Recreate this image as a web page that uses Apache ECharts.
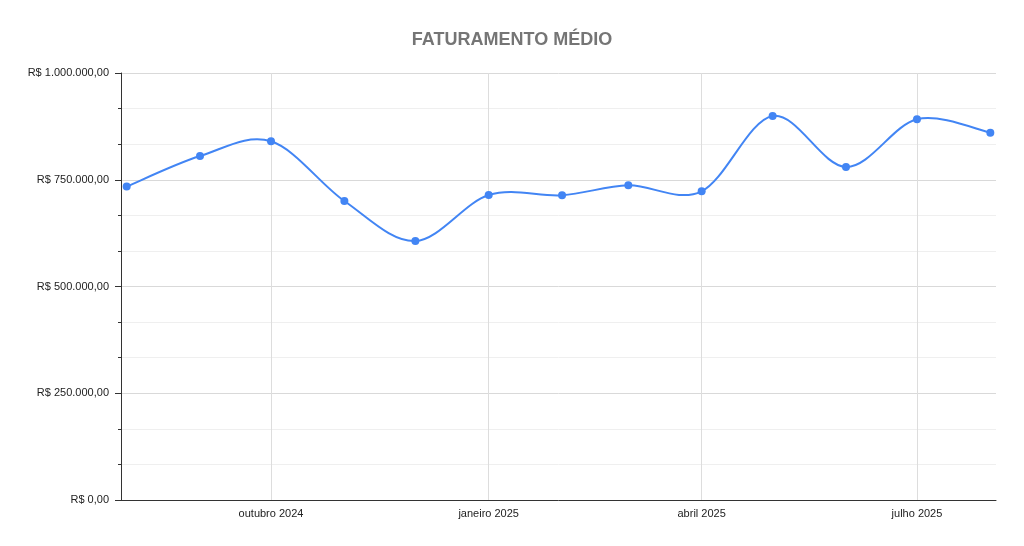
<!DOCTYPE html>
<html>
<head>
<meta charset="utf-8">
<script src="https://cdn.jsdelivr.net/npm/echarts@6/dist/echarts.min.js"></script>
<style>html,body{margin:0;padding:0;background:#fff}#c{width:1024px;height:546px}</style>
</head>
<body>
<div id="c"></div>
<script>
// Monthly data points (year, month index 0-based)
const months = [
  [2024, 7], [2024, 8], [2024, 9], [2024, 10], [2024, 11],
  [2025, 0], [2025, 1], [2025, 2], [2025, 3], [2025, 4], [2025, 5], [2025, 6], [2025, 7]
];
const values = [734000, 805600, 840000, 700200, 606600, 714300, 713600, 737000, 723000, 899300, 779900, 891600, 860200];
// Quarterly x-axis tick labels
const tickMonths = [[2024, 9], [2025, 0], [2025, 3], [2025, 6]];
const monthNames = ['janeiro','fevereiro','março','abril','maio','junho','julho','agosto','setembro','outubro','novembro','dezembro'];
const titleText = 'FATURAMENTO MÉDIO';

const ts = m => new Date(m[0], m[1], 1).getTime();
const data = months.map((m, i) => [ts(m), values[i]]);
const tickValues = tickMonths.map(ts);
const DAY = 86400000;
const xMin = ts(months[0]) - 2.4 * DAY;
const xMax = ts(months[months.length - 1]) + 2.4 * DAY;

function brl(v) {
  const s = Math.round(v).toString().replace(/\B(?=(\d{3})+(?!\d))/g, '.');
  return 'R$ ' + s + ',00';
}

// Catmull-Rom curve through the points, positioned via the chart's own scales (api.coord)
function renderCurve(params, api) {
  if (params.dataIndex !== 0) return null;
  const p = data.map(d => api.coord(d));
  const n = p.length;
  let path = 'M' + p[0][0] + ' ' + p[0][1];
  for (let i = 0; i < n - 1; i++) {
    const p0 = p[Math.max(i - 1, 0)], p1 = p[i], p2 = p[i + 1], p3 = p[Math.min(i + 2, n - 1)];
    const c1x = p1[0] + (p2[0] - p0[0]) / 6, c1y = p1[1] + (p2[1] - p0[1]) / 6;
    const c2x = p2[0] - (p3[0] - p1[0]) / 6, c2y = p2[1] - (p3[1] - p1[1]) / 6;
    path += ' C' + c1x + ' ' + c1y + ' ' + c2x + ' ' + c2y + ' ' + p2[0] + ' ' + p2[1];
  }
  return {
    type: 'path',
    shape: {pathData: path},
    style: {fill: 'none', stroke: '#4285F4', lineWidth: 2}
  };
}

const chart = echarts.init(document.getElementById('c'), null, {renderer: 'canvas'});
chart.setOption({
  animation: false,
  backgroundColor: '#ffffff',
  title: {
    text: titleText,
    left: 'center',
    top: 26,
    textStyle: {fontFamily: 'Liberation Sans, Arial, sans-serif', fontSize: 18, fontWeight: 'bold', color: '#757575'}
  },
  grid: {left: 121, right: 28, top: 73, bottom: 46, containLabel: false},
  xAxis: {
    type: 'value',
    min: xMin,
    max: xMax,
    axisLine: {show: true, onZero: false, lineStyle: {color: '#333333', width: 1}},
    axisTick: {show: false, customValues: tickValues},
    axisLabel: {
      customValues: tickValues,
      margin: 8,
      showMinLabel: true,
      showMaxLabel: true,
      fontFamily: 'Liberation Sans, Arial, sans-serif',
      fontSize: 11,
      color: '#222222',
      formatter: function (v) {
        const d = new Date(v);
        return monthNames[d.getMonth()] + ' ' + d.getFullYear();
      }
    },
    splitLine: {show: true, lineStyle: {color: '#dddddd', width: 1}}
  },
  yAxis: {
    type: 'value',
    min: 0,
    max: 1000000,
    interval: 250000,
    axisLine: {show: true, lineStyle: {color: '#333333', width: 1}},
    axisTick: {show: true, length: 6, lineStyle: {color: '#333333'}},
    minorTick: {show: true, splitNumber: 3, length: 3, lineStyle: {color: '#333333'}},
    axisLabel: {
      margin: 12,
      fontFamily: 'Liberation Sans, Arial, sans-serif',
      fontSize: 11,
      color: '#222222',
      formatter: brl
    },
    splitLine: {show: true, lineStyle: {color: '#d9d9d9', width: 1}},
    minorSplitLine: {show: true, lineStyle: {color: '#efefef', width: 1}}
  },
  series: [{
    type: 'custom',
    data: data,
    encode: {x: 0, y: 1},
    renderItem: renderCurve,
    z: 2
  }, {
    type: 'scatter',
    data: data,
    symbol: 'circle',
    symbolSize: 8,
    itemStyle: {color: '#4285F4', opacity: 1},
    z: 3
  }]
});
</script>
</body>
</html>
